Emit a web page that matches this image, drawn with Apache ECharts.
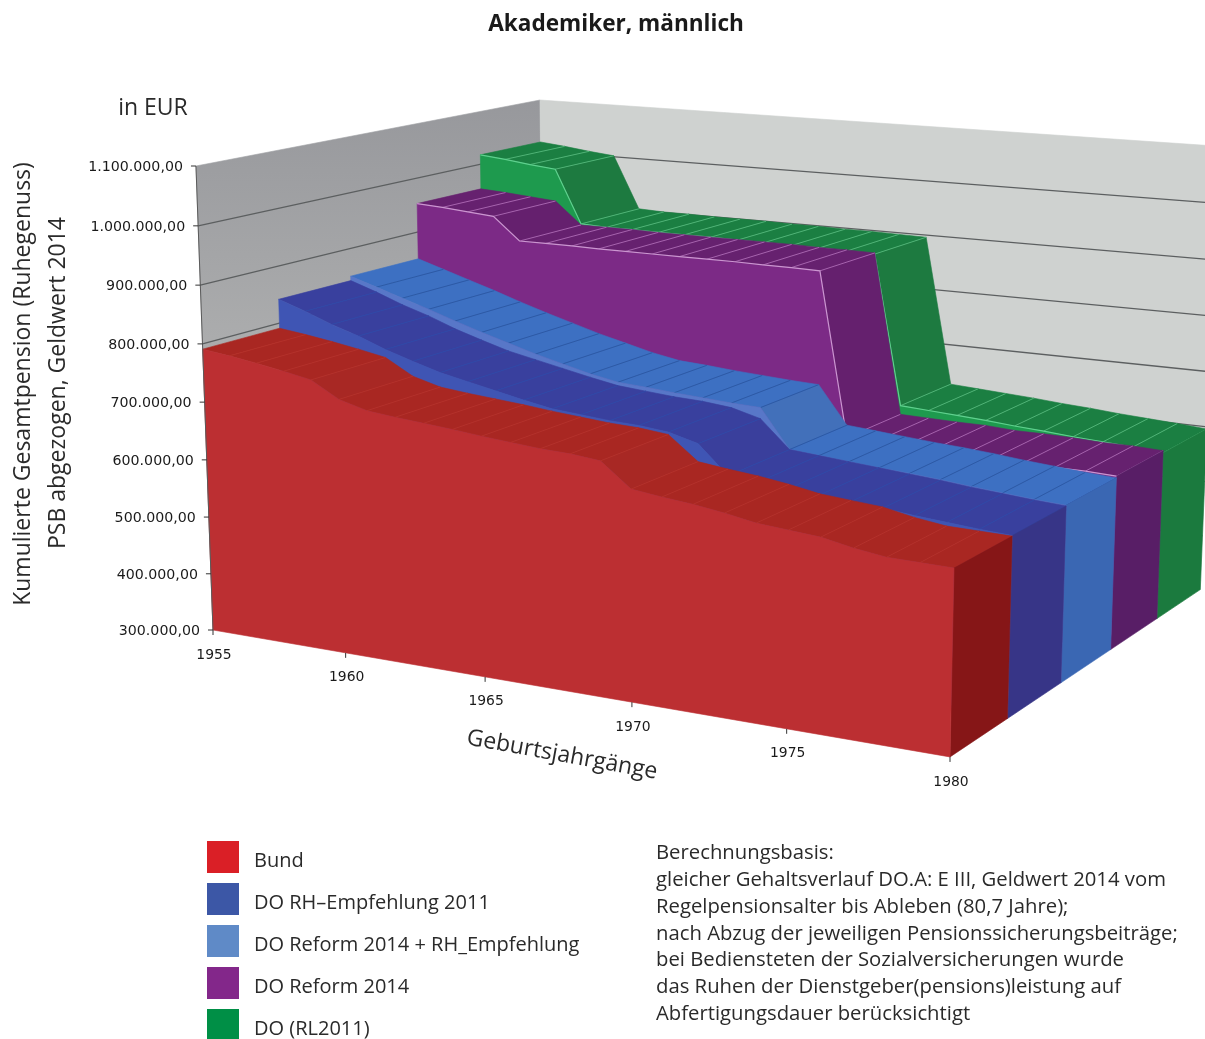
<!DOCTYPE html>
<html>
<head>
<meta charset="utf-8">
<style>html,body{margin:0;padding:0;background:#fff}#chart{width:1205px;height:1039px}</style>
<script src="https://cdn.jsdelivr.net/npm/echarts@6/dist/echarts.min.js"></script>
</head>
<body>
<div id="chart"></div>
<script>
// Birth cohorts on the floor axis
const years = [1955,1956,1957,1958,1959,1960,1961,1962,1963,1964,1965,1966,1967,1968,1969,1970,1971,1972,1973,1974,1975,1976,1977,1978,1979,1980];
const yearTicks = [1955,1960,1965,1970,1975,1980];

// Cumulative pension in thousand EUR per cohort
const bund      = [791,785,778,770,761,734,721,716,712,708,703,699,695,693,688,649,643,638,631,622,618,614,604,597,596,595];
const doRh2011  = [842,826,808,793,775,760,746,736,726,716,707,703,699,697,692,679,632,628,624,620,616,612,607,603,599,596];
const doRefRh   = [850,835,820,805,789,774,760,746,734,722,713,710,706,703,700,698,632,628,624,620,617,613,608,604,600,597];
const doRef2014 = [953,950,946,942,901,901,901,900,900,900,900,900,900,899,899,898,610,609,608,608,605,605,604,602,602,600];
const doRl2011  = [1018,1013,1007,1002,903,901,901,900,900,900,899,899,898,898,897,896,626,623,620,617,613,610,606,603,600,596];

const valueTicks = [300,400,500,600,700,800,900,1000,1100];
const valueLabels = ['300.000,00','400.000,00','500.000,00','600.000,00','700.000,00','800.000,00','900.000,00','1.000.000,00','1.100.000,00'];

// Drawing order runs back to front; each block has its own depth slot
const blocks = [
  {name:'DO (RL2011)', values:doRl2011, slot:4, key:'#008F46', front:'#1E9A4E', top:'#1B7F42', steep:'#1D7A40', side:'#1B7A3E', slat:'#4FB376', edge:'#5FD08E'},
  {name:'DO Reform 2014', values:doRef2014, slot:3, key:'#83278A', front:'#7C2A86', top:'#66216F', steep:'#65206E', side:'#581E66', slat:'#A762AE', edge:'#CB95D0'},
  {name:'DO Reform 2014 + RH_Empfehlung', values:doRefRh, slot:2, key:'#5F8AC7', front:'#5877C8', top:'#3D70C2', steep:'#4270BA', side:'#3A67B3', slat:'#2C5AA6', edge:null},
  {name:'DO RH\u2013Empfehlung 2011', values:doRh2011, slot:1, key:'#3C57A6', front:'#3F55B4', top:'#39409E', steep:'#3A3F9C', side:'#373587', slat:'#3049A8', edge:null},
  {name:'Bund', values:bund, slot:0, key:'#DA1F26', front:'#BC2F32', top:'#A92722', steep:'#A82824', side:'#861617', slat:'#B5312A', edge:null}
];
const legendOrder = ['Bund','DO RH\u2013Empfehlung 2011','DO Reform 2014 + RH_Empfehlung','DO Reform 2014','DO (RL2011)'];

// Perspective box: year, depth and value map to the page through one projective transform
const VALUE_MIN = 300, VALUE_MAX = 1100, SLOTS = 5;
const NX = [213, 621.1, 423.8, -23.9];
const NY = [630, 34.6, -46.7, -469.8];
const DN = [1, -0.122, 0.17, -0.035];
function project(year, depth, value) {
  const u = (year - years[0]) / (years[years.length - 1] - years[0]);
  const v = depth / SLOTS;
  const w = (value - VALUE_MIN) / (VALUE_MAX - VALUE_MIN);
  const d = DN[0] + DN[1]*u + DN[2]*v + DN[3]*w;
  return [(NX[0] + NX[1]*u + NX[2]*v + NX[3]*w) / d, (NY[0] + NY[1]*u + NY[2]*v + NY[3]*w) / d];
}

const FONT = '"Open Sans", sans-serif';
const LABEL_FONT = '"DejaVu Sans", sans-serif';
const LAST = years[years.length - 1], FIRST = years[0];

function poly(pts, fill, stroke) {
  return {type:'polygon', shape:{points:pts}, style:{fill:fill, stroke:stroke || fill, lineWidth:0.6}};
}
function line(pts, color, width) {
  return {type:'polyline', shape:{points:pts}, style:{fill:null, stroke:color, lineWidth:width}};
}

function renderBlock(block) {
  return function (params, api) {
    if (params.dataIndex !== 0) return null;
    const at = (y, d, val) => api.coord(project(y, d, val));
    const d0 = block.slot, d1 = block.slot + 1, vals = block.values, kids = [];
    // top surface, one strip per cohort step
    for (let i = 0; i < years.length - 1; i++) {
      const isSteep = vals[i] - vals[i + 1] > 25;
      kids.push(poly([at(years[i], d0, vals[i]), at(years[i + 1], d0, vals[i + 1]), at(years[i + 1], d1, vals[i + 1]), at(years[i], d1, vals[i])], isSteep ? block.steep : block.top));
    }
    for (let i = 1; i < years.length; i++) {
      kids.push(line([at(years[i], d0, vals[i]), at(years[i], d1, vals[i])], block.slat, 1));
    }
    // closing face at the youngest cohort
    const end = vals[vals.length - 1];
    kids.push(poly([at(LAST, d0, VALUE_MIN), at(LAST, d1, VALUE_MIN), at(LAST, d1, end), at(LAST, d0, end)], block.side));
    // front face down to the floor
    const profile = years.map((y, i) => at(y, d0, vals[i]));
    kids.push(poly(profile.concat([at(LAST, d0, VALUE_MIN), at(FIRST, d0, VALUE_MIN)]), block.front));
    if (block.edge) kids.push(line(profile, block.edge, 1.2));
    return {type:'group', children:kids};
  };
}

function renderWalls(params, api) {
  if (params.dataIndex !== 0) return null;
  const at = (y, d, val) => api.coord(project(y, d, val));
  const kids = [];
  const leftWall = poly([at(FIRST, 0, VALUE_MAX), at(FIRST, SLOTS, VALUE_MAX), at(FIRST, SLOTS, VALUE_MIN), at(FIRST, 0, VALUE_MIN)], '#A0A1A4');
  leftWall.style.fill = new echarts.graphic.LinearGradient(0, 0, 0, 1, [{offset:0, color:'#97989C'},{offset:0.45, color:'#ABACAD'},{offset:1, color:'#B5B5B5'}]);
  kids.push(leftWall);
  kids.push(poly([at(FIRST, SLOTS, VALUE_MAX), at(LAST, SLOTS, VALUE_MAX), at(LAST, SLOTS, VALUE_MIN), at(FIRST, SLOTS, VALUE_MIN)], '#CFD2D0'));
  valueTicks.forEach((t, i) => {
    if (i > 0 && i < valueTicks.length - 1) {
      kids.push(line([at(FIRST, 0, t), at(FIRST, SLOTS, t), at(LAST, SLOTS, t)], '#5C5F60', 1.3));
    }
  });
  return {type:'group', children:kids};
}

function renderAxes(params, api) {
  if (params.dataIndex !== 0) return null;
  const at = (y, d, val) => api.coord(project(y, d, val));
  const kids = [line([at(FIRST, 0, VALUE_MAX), at(FIRST, 0, VALUE_MIN)], '#5A5A5A', 1)];
  valueTicks.forEach((t, i) => {
    const p = at(FIRST, 0, t);
    kids.push(line([[p[0] - 5, p[1]], p], '#333', 1));
    kids.push({type:'text', style:{text:valueLabels[i], x:p[0] - 13, y:p[1] + 1.5, align:'right', verticalAlign:'middle', font:'14.2px ' + LABEL_FONT, fill:'#1a1a1a'}});
  });
  yearTicks.forEach(t => {
    const p = at(t, 0, VALUE_MIN);
    kids.push(line([p, [p[0], p[1] + 5]], '#333', 1));
    kids.push({type:'text', style:{text:String(t), x:p[0] + 1, y:p[1] + 25, align:'center', verticalAlign:'middle', font:'13.9px ' + LABEL_FONT, fill:'#1a1a1a'}});
  });
  return {type:'group', children:kids};
}

const noteLines = [
  'Berechnungsbasis:',
  'gleicher Gehaltsverlauf DO.A: E III, Geldwert 2014 vom',
  'Regelpensionsalter bis Ableben (80,7 Jahre);',
  'nach Abzug der jeweiligen Pensionssicherungsbeiträge;',
  'bei Bediensteten der Sozialversicherungen wurde',
  'das Ruhen der Dienstgeber(pensions)leistung auf',
  'Abfertigungsdauer berücksichtigt'
];

const chart = echarts.init(document.getElementById('chart'), null, {renderer:'canvas'});
const rows = years.map((y, i) => [y, bund[i]]);

chart.setOption({
  animation:false,
  backgroundColor:'#ffffff',
  title:{text:'Akademiker, männlich', left:611, top:8, textAlign:'center', textStyle:{fontFamily:FONT, fontWeight:'bold', fontSize:22.6, color:'#1a1a1a'}},
  grid:{left:0, right:0, top:0, bottom:0},
  xAxis:{type:'value', min:0, max:1205, show:false},
  yAxis:{type:'value', min:0, max:1039, inverse:true, show:false},
  legend:{
    data:legendOrder, orient:'vertical', left:207, top:841, height:215, padding:0, itemWidth:32, itemHeight:32, itemGap:10,
    icon:'rect', selectedMode:false, formatter:name => '{t|' + name + '}',
    textStyle:{fontFamily:FONT, fontSize:20, color:'#2a2a2a', padding:[0,0,0,10],
      rich:{t:{fontFamily:FONT, fontSize:20, color:'#2a2a2a', padding:[8,0,0,0]}}}
  },
  graphic:[
    {type:'text', x:153, y:108, style:{text:'in EUR', align:'center', verticalAlign:'middle', font:'23px ' + FONT, fill:'#2a2a2a'}},
    {type:'text', x:23, y:384, rotation:Math.PI/2, style:{text:'Kumulierte Gesamtpension (Ruhegenuss)', align:'center', verticalAlign:'middle', font:'23px ' + FONT, fill:'#2a2a2a'}},
    {type:'text', x:58, y:383, rotation:Math.PI/2, style:{text:'PSB abgezogen, Geldwert 2014', align:'center', verticalAlign:'middle', font:'23px ' + FONT, fill:'#2a2a2a'}},
    {type:'text', x:562, y:755, rotation:-0.18, style:{text:'Geburtsjahrgänge', align:'center', verticalAlign:'middle', font:'23px ' + FONT, fill:'#2a2a2a'}},
    {type:'text', x:656, y:840, style:{text:noteLines.join('\n'), align:'left', verticalAlign:'top', font:'20.3px ' + FONT, lineHeight:26.8, fill:'#2a2a2a'}}
  ],
  series:[
    {type:'custom', name:'walls', coordinateSystem:'cartesian2d', renderItem:renderWalls, data:rows, silent:true, z:1}
  ].concat(blocks.map((b, i) => ({
    type:'custom', name:b.name, coordinateSystem:'cartesian2d', renderItem:renderBlock(b),
    data:years.map((y, k) => [y, b.values[k]]), itemStyle:{color:b.key}, silent:true, z:2 + i
  }))).concat([
    {type:'custom', name:'axes', coordinateSystem:'cartesian2d', renderItem:renderAxes, data:rows, silent:true, z:10}
  ])
});
</script>
</body>
</html>
